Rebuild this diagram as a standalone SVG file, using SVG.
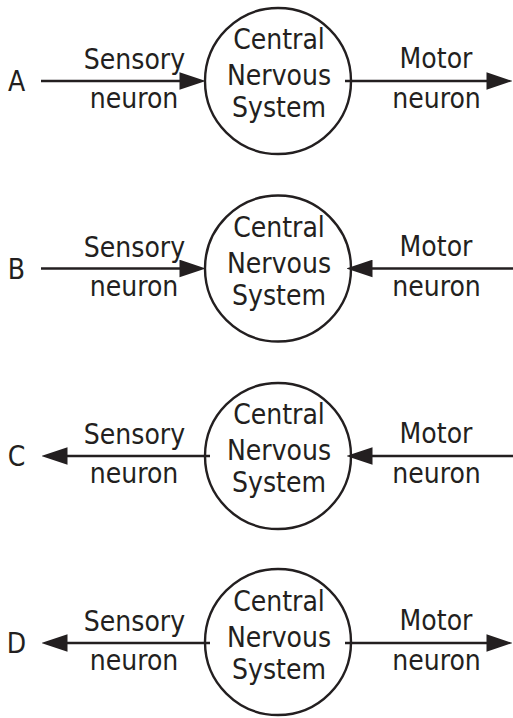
<svg xmlns="http://www.w3.org/2000/svg" width="513" height="718" viewBox="0 0 513 718">
<style>
text{font-family:"DejaVu Sans Condensed","DejaVu Sans",sans-serif;font-stretch:condensed;font-size:28px;fill:#231f20;text-anchor:middle}
.cns{fill:none;stroke:#231f20;stroke-width:2.4}
.ln{stroke:#231f20;stroke-width:2.4;fill:none;marker-end:url(#ah)}
</style>
<defs>
<marker id="ah" markerUnits="userSpaceOnUse" markerWidth="26" markerHeight="18" viewBox="0 0 25 17" refX="13" refY="8.5" orient="auto">
<path d="M0,0 L25,8.5 L0,17 z" fill="#231f20"/>
</marker>
</defs>
<g id="connectors">
<line class="ln" x1="41" y1="81" x2="193" y2="81"/>
<line class="ln" x1="345" y1="81" x2="500" y2="81"/>
<line class="ln" x1="41" y1="268.5" x2="193" y2="268.5"/>
<line class="ln" x1="513" y1="268.5" x2="359" y2="268.5"/>
<line class="ln" x1="210" y1="456" x2="54" y2="456"/>
<line class="ln" x1="513" y1="456" x2="359" y2="456"/>
<line class="ln" x1="210" y1="643" x2="54" y2="643"/>
<line class="ln" x1="345" y1="643" x2="500" y2="643"/>
</g>
<g id="rowA">
<text x="16.5" y="91">A</text>
<text x="134.5" y="69">Sensory</text>
<text x="134" y="108">neuron</text>
<text x="436" y="68">Motor</text>
<text x="436.5" y="108">neuron</text>
</g>
<g id="cnsA">
<circle class="cns" cx="278" cy="81" r="73"/>
<text x="279" y="49">Central</text>
<text x="279" y="85">Nervous</text>
<text x="279" y="117">System</text>
</g>
<g id="rowB">
<text x="16.5" y="278.5">B</text>
<text x="134.5" y="256.5">Sensory</text>
<text x="134" y="295.5">neuron</text>
<text x="436" y="255.5">Motor</text>
<text x="436.5" y="295.5">neuron</text>
</g>
<g id="cnsB">
<circle class="cns" cx="278" cy="268.5" r="73"/>
<text x="279" y="236.5">Central</text>
<text x="279" y="272.5">Nervous</text>
<text x="279" y="304.5">System</text>
</g>
<g id="rowC">
<text x="16.5" y="466">C</text>
<text x="134.5" y="444">Sensory</text>
<text x="134" y="483">neuron</text>
<text x="436" y="443">Motor</text>
<text x="436.5" y="483">neuron</text>
</g>
<g id="cnsC">
<circle class="cns" cx="278" cy="456" r="73"/>
<text x="279" y="424">Central</text>
<text x="279" y="460">Nervous</text>
<text x="279" y="492">System</text>
</g>
<g id="rowD">
<text x="16.5" y="653">D</text>
<text x="134.5" y="631">Sensory</text>
<text x="134" y="670">neuron</text>
<text x="436" y="630">Motor</text>
<text x="436.5" y="670">neuron</text>
</g>
<g id="cnsD">
<circle class="cns" cx="278" cy="642" r="73"/>
<text x="279" y="611">Central</text>
<text x="279" y="647">Nervous</text>
<text x="279" y="679">System</text>
</g>
</svg>
